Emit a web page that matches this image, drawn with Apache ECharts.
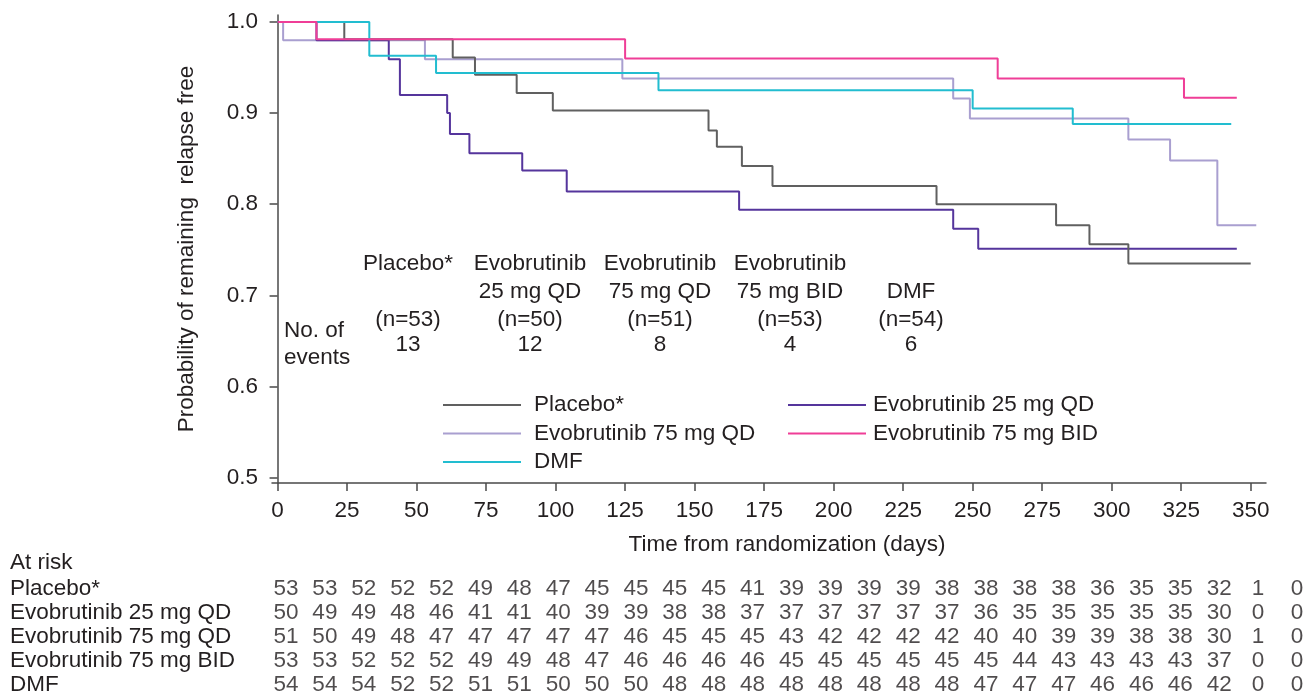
<!DOCTYPE html>
<html>
<head>
<meta charset="utf-8">
<script src="https://cdn.jsdelivr.net/npm/echarts@6/dist/echarts.min.js"></script>
<style>
    html, body { margin: 0; padding: 0; background: #fff; }
    #main { width: 1307px; height: 700px; }
</style>
</head>
<body>
<div id="main"></div>
<script>
    // KM 曲线: 每个时间点之后的无复发概率
    const placeboDays = [0, 24, 63, 71, 86, 99, 155, 158, 167, 178, 237, 280, 292, 306, 350];
    const placeboSurv = [1.0, 0.981, 0.961, 0.942, 0.922, 0.903, 0.881, 0.863, 0.842, 0.820, 0.800, 0.777, 0.756, 0.735, 0.735];

    const evo25Days = [0, 14, 40, 44, 61, 62, 69, 88, 104, 166, 243, 252, 345];
    const evo25Surv = [1.0, 0.980, 0.959, 0.920, 0.900, 0.877, 0.856, 0.837, 0.814, 0.794, 0.773, 0.751, 0.751];

    const evo75Days = [0, 2, 53, 124, 243, 249, 306, 321, 338, 352];
    const evo75Surv = [1.0, 0.980, 0.959, 0.938, 0.916, 0.894, 0.871, 0.848, 0.777, 0.777];

    const bidDays = [0, 14, 125, 259, 326, 345];
    const bidSurv = [1.0, 0.981, 0.960, 0.938, 0.917, 0.917];

    const dmfDays = [0, 33, 57, 137, 250, 286, 343];
    const dmfSurv = [1.0, 0.963, 0.944, 0.925, 0.905, 0.888, 0.888];

    const xTicks = [0, 25, 50, 75, 100, 125, 150, 175, 200, 225, 250, 275, 300, 325, 350];
    const yTicks = [0.5, 0.6, 0.7, 0.8, 0.9, 1.0];

    // 事件数标注
    const groupNames = ['Placebo*', 'Evobrutinib\n25 mg QD', 'Evobrutinib\n75 mg QD', 'Evobrutinib\n75 mg BID', 'DMF'];
    const groupN = [53, 50, 51, 53, 54];
    const groupEvents = [13, 12, 8, 4, 6];

    // At risk 表
    const riskRows = ['Placebo*', 'Evobrutinib 25 mg QD', 'Evobrutinib 75 mg QD', 'Evobrutinib 75 mg BID', 'DMF'];
    const riskPlacebo = [53, 53, 52, 52, 52, 49, 48, 47, 45, 45, 45, 45, 41, 39, 39, 39, 39, 38, 38, 38, 38, 36, 35, 35, 32, 1, 0];
    const risk25 = [50, 49, 49, 48, 46, 41, 41, 40, 39, 39, 38, 38, 37, 37, 37, 37, 37, 37, 36, 35, 35, 35, 35, 35, 30, 0, 0];
    const risk75 = [51, 50, 49, 48, 47, 47, 47, 47, 47, 46, 45, 45, 45, 43, 42, 42, 42, 42, 40, 40, 39, 39, 38, 38, 30, 1, 0];
    const riskBid = [53, 53, 52, 52, 52, 49, 49, 48, 47, 46, 46, 46, 46, 45, 45, 45, 45, 45, 45, 44, 43, 43, 43, 43, 37, 0, 0];
    const riskDmf = [54, 54, 54, 52, 52, 51, 51, 50, 50, 50, 48, 48, 48, 48, 48, 48, 48, 48, 47, 47, 47, 46, 46, 46, 42, 0, 0];

    const FONT = '"Liberation Sans", Arial, sans-serif';
    const TXT = '#231f20';
    const FS = 22.5;
    const AXIS = '#4a4a4a';

    const chartInstance = echarts.init(document.getElementById('main'));

    const pairs = (xs, ys) => xs.map((x, i) => [x, ys[i]]);

    function kmSeries(name, color, days, surv) {
        return {
            name: name,
            type: 'line',
            step: 'end',
            symbol: 'none',
            xAxisIndex: 0,
            yAxisIndex: 0,
            lineStyle: { color: color, width: 2 },
            itemStyle: { color: color },
            data: pairs(days, surv)
        };
    }

    const riskAll = [riskPlacebo, risk25, risk75, riskBid, riskDmf];
    const riskData = [];
    riskAll.forEach((row, r) => {
        row.forEach((v, c) => riskData.push([c, riskRows[r], v]));
    });

    // 标注文字
    const groupX = [408, 530, 660, 790, 911];
    const graphics = [];
    const txt = (t, x, y, align) => ({
        type: 'text', x: x, y: y,
        style: { text: t, fill: TXT, font: FS + 'px ' + FONT, align: align || 'center', verticalAlign: 'middle' }
    });
    groupNames.forEach((g, i) => {
        const lines = g.split('\n');
        const y0 = lines.length === 1 && i === 4 ? 292 : 264;
        lines.forEach((t, k) => graphics.push(txt(t, groupX[i], y0 + k * 28)));
        graphics.push(txt('(n=' + groupN[i] + ')', groupX[i], 320));
        graphics.push(txt(String(groupEvents[i]), groupX[i], 345));
    });
    graphics.push(txt('No. of', 284, 331, 'left'));
    graphics.push(txt('events', 284, 358, 'left'));
    graphics.push(txt('At risk', 10, 563, 'left'));

    const legendBase = {
        orient: 'vertical',
        top: 393,
        padding: 0,
        itemWidth: 78,
        itemHeight: 2,
        itemGap: 4.5,
        icon: 'rect',
        selectedMode: false
    };

    const option = {
        animation: false,
        backgroundColor: '#fff',
        textStyle: { fontFamily: FONT },
        graphic: graphics,
        legend: [
            Object.assign({}, legendBase, {
                left: 443,
                data: ['Placebo*', 'Evobrutinib 75 mg QD', 'DMF'],
                textStyle: { fontSize: FS, color: TXT, fontFamily: FONT, lineHeight: 24, padding: [0, 0, 0, 8] }
            }),
            Object.assign({}, legendBase, {
                left: 788,
                data: ['Evobrutinib 25 mg QD', 'Evobrutinib 75 mg BID'],
                textStyle: { fontSize: FS, color: TXT, fontFamily: FONT, lineHeight: 24, padding: [0, 0, 0, 2] }
            })
        ],
        grid: [
            { left: 272, right: 41, top: 15, bottom: 217 },
            { left: 286, right: 10, top: 577, bottom: 3 }
        ],
        xAxis: [
            {
                type: 'value',
                gridIndex: 0,
                min: -2,
                max: 355.5,
                name: 'Time from randomization (days)',
                nameLocation: 'middle',
                nameGap: 50,
                nameTextStyle: { fontSize: FS, color: TXT, fontFamily: FONT, padding: [0, 0, 0, 36] },
                axisLine: { lineStyle: { color: AXIS, width: 1.5 } },
                axisTick: { show: true, length: 8, lineStyle: { color: AXIS, width: 1.5 }, customValues: xTicks },
                axisLabel: { fontSize: FS, color: TXT, margin: 16, customValues: xTicks },
                splitLine: { show: false }
            },
            { type: 'value', gridIndex: 1, min: 0, max: 26, show: false }
        ],
        yAxis: [
            {
                type: 'value',
                gridIndex: 0,
                min: 0.494,
                max: 1.0077,
                name: 'Probability of remaining  relapse free',
                nameLocation: 'middle',
                nameGap: 74,
                nameTextStyle: { fontSize: FS, color: TXT, fontFamily: FONT },
                axisLine: { show: true, lineStyle: { color: AXIS, width: 1.5 } },
                axisTick: { show: true, length: 8, lineStyle: { color: AXIS, width: 1.5 }, customValues: yTicks },
                axisLabel: { fontSize: FS, color: TXT, margin: 14, customValues: yTicks, formatter: v => v.toFixed(1) },
                splitLine: { show: false }
            },
            {
                type: 'category',
                gridIndex: 1,
                inverse: true,
                data: riskRows,
                axisLine: { show: false },
                axisTick: { show: false },
                axisLabel: { interval: 0, align: 'left', margin: 276, fontSize: FS, color: TXT, fontFamily: FONT }
            }
        ],
        series: [
            kmSeries('Evobrutinib 75 mg QD', '#a99fd0', evo75Days, evo75Surv),
            kmSeries('Evobrutinib 25 mg QD', '#55359c', evo25Days, evo25Surv),
            kmSeries('Placebo*', '#606060', placeboDays, placeboSurv),
            kmSeries('DMF', '#22bdd0', dmfDays, dmfSurv),
            kmSeries('Evobrutinib 75 mg BID', '#ef3e97', bidDays, bidSurv),
            {
                type: 'scatter',
                xAxisIndex: 1,
                yAxisIndex: 1,
                symbolSize: 0,
                silent: true,
                label: {
                    show: true,
                    position: 'inside',
                    fontSize: FS,
                    color: TXT,
                    fontFamily: FONT,
                    formatter: p => p.value[2]
                },
                data: riskData
            }
        ]
    };
    chartInstance.setOption(option);
</script>
</body>
</html>
